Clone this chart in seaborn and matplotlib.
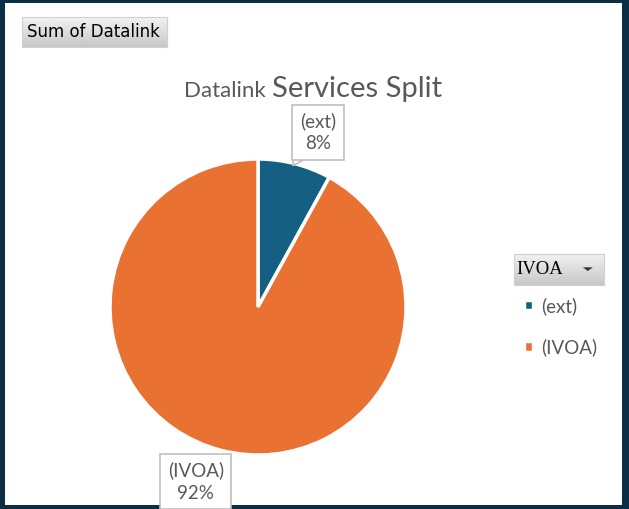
import matplotlib
matplotlib.use('Agg')

import numpy as np
import matplotlib.pyplot as plt
import seaborn as sns
from matplotlib.patches import Polygon

sns.set_theme(style="white")
plt.rcParams['font.family'] = ['Lato', 'DejaVu Sans']

# data
categories = ["(ext)", "(IVOA)"]
shares = [8, 92]
colors = ["#156082", "#E97132"]

W, H = 629, 509
fig = plt.figure(figsize=(W / 100, H / 100), dpi=100)
fig.patch.set_facecolor("#0B2E45")

# white chart area
bg = fig.add_axes([5 / W, 1 - 505 / H, 617 / W, 502 / H])
bg.set_facecolor("white")
bg.set_xticks([])
bg.set_yticks([])
for s in bg.spines.values():
    s.set_visible(False)

# pie
cx, cy, r = 258, 307, 148
ax = fig.add_axes([(cx - r) / W, (H - cy - r) / H, 2 * r / W, 2 * r / H])
wedges, _ = ax.pie(shares, colors=colors, startangle=90, counterclock=False,
                   wedgeprops=dict(edgecolor="white", linewidth=2.5), radius=1)
ax.set_xlim(-1, 1)
ax.set_ylim(-1, 1)
ax.set_aspect("equal")
ax.axis("off")

# data labels
label_pos = [(0.405, 1.18), (-0.42, -1.18)]
for lab, val, (lx, ly) in zip(categories, shares, label_pos):
    ax.text(lx, ly, "%s\n%d%%" % (lab, val), ha="center", va="center",
            fontsize=13.5, color="#595959", linespacing=1.35, clip_on=False,
            bbox=dict(boxstyle="square,pad=0.4", fc="white", ec="#BFBFBF", lw=1.2))
# callout pointer for ext label
ax.add_patch(Polygon([(0.24, 1.005), (0.235, 0.955), (0.33, 1.005)], closed=True,
                     fc="white", ec="#BFBFBF", lw=1.2, clip_on=False))
ax.plot([0.245, 0.325], [1.008, 1.008], color="white", lw=1.8, clip_on=False)

# title
fig.text(266 / W, 1 - 97 / H, "Datalink", ha="right", va="baseline",
         fontsize=16, color="#595959")
fig.text(272 / W, 1 - 97 / H, "Services Split", ha="left", va="baseline",
         fontsize=21, color="#595959")

# gradient buttons
grad = np.linspace(0.95, 0.78, 50).reshape(-1, 1)


def button(x0, y0, w, h):
    b = fig.add_axes([x0 / W, 1 - (y0 + h) / H, w / W, h / H])
    b.imshow(grad, cmap="gray", vmin=0, vmax=1, aspect="auto",
             extent=[0, 1, 0, 1])
    b.set_xticks([])
    b.set_yticks([])
    for s in b.spines.values():
        s.set_color("#D0D0D0")
        s.set_linewidth(0.8)
    return b


b1 = button(22, 17, 145, 30)
b1.text(0.035, 0.5, "Sum of Datalink", ha="left", va="center", fontsize=12,
        color="black", family=["Liberation Sans Narrow", "DejaVu Sans"],
        transform=b1.transAxes)

b2 = button(514, 254, 90, 31)
b2.text(0.03, 0.5, "IVOA", ha="left", va="center", fontsize=13.5,
        color="black", family=["Liberation Serif", "DejaVu Serif"],
        transform=b2.transAxes)
b2.add_patch(Polygon([(0.765, 0.57), (0.875, 0.57), (0.82, 0.45)], closed=True,
                     fc="#333333", ec="none", transform=b2.transAxes))

# legend
leg = fig.legend(wedges, categories, loc="upper left",
                 bbox_to_anchor=(507 / W, 1 - 280 / H), frameon=False,
                 fontsize=13.5, handlelength=0.5, handleheight=0.5,
                 handletextpad=0.4, labelspacing=1.25)
for t in leg.get_texts():
    t.set_color("#595959")

fig.savefig("out.png", dpi=100, facecolor=fig.get_facecolor())
